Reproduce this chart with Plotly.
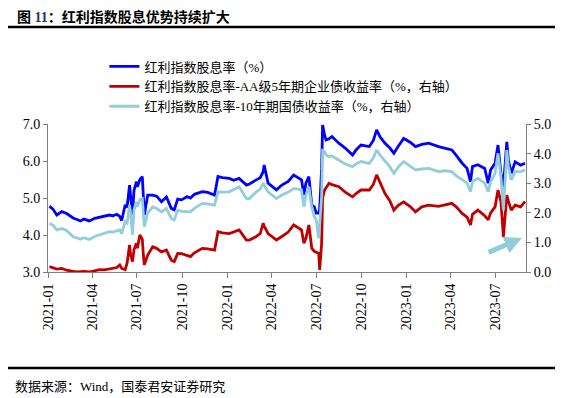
import plotly.graph_objects as go

dates = [
    "2021-01-04", "2021-01-11", "2021-01-19", "2021-01-29", "2021-02-08", "2021-02-21",
    "2021-03-01", "2021-03-08", "2021-03-15", "2021-03-26", "2021-04-06", "2021-04-16",
    "2021-04-26", "2021-05-06", "2021-05-13", "2021-05-21", "2021-05-27", "2021-05-31",
    "2021-06-07", "2021-06-11", "2021-06-16", "2021-06-18", "2021-06-22", "2021-06-25",
    "2021-06-30", "2021-07-02", "2021-07-07", "2021-07-12", "2021-07-14", "2021-07-16",
    "2021-07-23", "2021-08-02", "2021-08-10", "2021-08-20", "2021-08-30", "2021-09-09",
    "2021-09-15", "2021-09-22", "2021-09-30", "2021-10-11", "2021-10-18", "2021-10-26",
    "2021-11-11", "2021-11-22", "2021-12-06", "2021-12-13", "2021-12-22", "2022-01-05",
    "2022-01-14", "2022-01-25", "2022-02-09", "2022-02-15", "2022-03-01", "2022-03-09",
    "2022-03-15", "2022-03-17", "2022-03-25", "2022-04-11", "2022-04-22", "2022-05-05",
    "2022-05-16", "2022-05-24", "2022-06-01", "2022-06-06", "2022-06-10", "2022-06-16",
    "2022-06-22", "2022-06-27", "2022-07-01", "2022-07-06", "2022-07-08", "2022-07-12",
    "2022-07-14", "2022-07-18", "2022-07-21", "2022-07-27", "2022-08-02", "2022-08-16",
    "2022-08-29", "2022-09-13", "2022-09-20", "2022-09-30", "2022-10-17", "2022-10-25",
    "2022-11-01", "2022-11-08", "2022-11-18", "2022-11-28", "2022-12-06", "2022-12-15",
    "2022-12-26", "2023-01-09", "2023-01-19", "2023-02-01", "2023-02-15", "2023-03-07",
    "2023-03-20", "2023-04-03", "2023-04-12", "2023-04-24", "2023-05-04", "2023-05-11",
    "2023-05-15", "2023-05-26", "2023-06-09", "2023-06-16", "2023-06-21", "2023-06-30",
    "2023-07-06", "2023-07-12", "2023-07-17", "2023-07-24", "2023-07-27", "2023-08-02",
    "2023-08-10", "2023-08-21", "2023-08-30",
]

dividend_yield = [
    4.78, 4.70, 4.54, 4.63, 4.58, 4.46,
    4.42, 4.38, 4.43, 4.38, 4.45, 4.48,
    4.50, 4.54, 4.52, 4.56, 4.50, 4.39,
    4.81, 4.75, 5.35, 5.10, 4.54, 5.20,
    5.44, 5.30, 5.50, 5.58, 5.20, 4.54,
    5.08, 5.08, 5.05, 4.90, 5.03, 4.72,
    4.68, 4.97, 4.95, 5.04, 5.00, 5.10,
    5.17, 5.15, 5.08, 5.58, 5.55, 5.53,
    5.48, 5.53, 5.35, 5.38, 5.49, 5.55,
    5.71, 5.89, 5.40, 5.22, 5.35, 5.45,
    5.62, 5.55, 5.49, 5.08, 5.40, 5.58,
    4.81, 4.76, 4.59, 4.59, 4.70, 5.80,
    6.97, 6.70, 6.57, 6.60, 6.66, 6.48,
    6.35, 6.16, 6.30, 6.43, 6.39, 6.55,
    6.84, 6.65, 6.48, 6.35, 6.21, 6.40,
    6.61, 6.50, 6.39, 6.45, 6.48, 6.39,
    6.35, 6.30, 6.15, 5.94, 5.80, 5.44,
    5.85, 5.90, 5.80, 5.40, 5.76, 5.94,
    6.43, 5.67, 5.31, 6.52, 6.03, 5.67,
    5.98, 5.89, 5.94,
]

spread_aa5y = [
    0.18, 0.15, 0.10, 0.12, 0.06, 0.02,
    0.00, 0.01, 0.02, 0.00, 0.03, 0.08,
    0.07, 0.10, 0.13, 0.15, 0.24, 0.12,
    0.08, 0.30, 0.91, 0.60, 0.35, 0.75,
    0.97, 0.80, 1.25, 1.10, 0.60, 0.24,
    0.57, 0.85, 0.80, 0.68, 0.74, 0.40,
    0.35, 0.63, 0.62, 0.55, 0.52, 0.65,
    0.80, 0.78, 0.74, 1.36, 1.32, 1.30,
    1.35, 1.42, 1.08, 1.08, 1.20, 1.30,
    1.65, 1.55, 1.30, 1.08, 1.20, 1.35,
    1.59, 1.50, 1.42, 0.97, 1.14, 1.59,
    0.80, 0.70, 0.68, 0.63, 0.07, 0.97,
    2.50, 2.77, 2.85, 3.00, 2.95, 2.88,
    2.70, 2.54, 2.65, 2.77, 2.77, 2.95,
    3.28, 3.00, 2.65, 2.40, 2.09, 2.25,
    2.37, 2.20, 2.03, 2.20, 2.26, 2.22,
    2.26, 2.32, 2.20, 1.98, 1.85, 1.59,
    1.95, 2.09, 1.90, 1.76, 2.00, 2.20,
    2.77, 2.38, 1.19, 2.60, 2.40, 2.09,
    2.26, 2.20, 2.38,
]

spread_10y = [
    1.64, 1.58, 1.42, 1.47, 1.40, 1.19,
    1.15, 1.11, 1.16, 1.10, 1.20, 1.25,
    1.30, 1.36, 1.35, 1.40, 1.42, 1.30,
    1.70, 1.65, 2.26, 2.00, 1.25, 2.10,
    2.37, 2.20, 2.45, 2.48, 2.00, 1.53,
    2.00, 2.20, 2.15, 2.03, 2.15, 1.81,
    1.76, 2.09, 2.05, 2.03, 2.03, 2.15,
    2.32, 2.30, 2.26, 2.71, 2.70, 2.71,
    2.78, 2.88, 2.48, 2.48, 2.71, 2.80,
    3.00, 2.95, 2.71, 2.48, 2.60, 2.70,
    2.82, 2.80, 2.77, 2.20, 2.60, 2.88,
    2.20, 1.87, 1.76, 1.14, 1.60, 2.54,
    4.10, 4.06, 3.95, 3.90, 3.92, 3.78,
    3.65, 3.56, 3.65, 3.73, 3.67, 3.85,
    4.12, 3.95, 3.73, 3.55, 3.33, 3.55,
    3.73, 3.58, 3.45, 3.48, 3.50, 3.39,
    3.42, 3.39, 3.25, 3.12, 3.00, 2.71,
    3.05, 3.16, 3.00, 2.71, 3.05, 3.33,
    4.01, 3.20, 2.09, 4.12, 3.60, 3.11,
    3.39, 3.39, 3.45,
]

names = [
    "红利指数股息率（%）",
    "红利指数股息率-AA级5年期企业债收益率（%，右轴）",
    "红利指数股息率-10年期国债收益率（%，右轴）",
]
colors = ["#0000FF", "#C00000", "#92CDDC"]

FONT = "Liberation Serif, 'Noto Sans CJK SC', serif"

fig = go.Figure()
fig.add_trace(go.Scatter(x=dates, y=dividend_yield, name=names[0], mode="lines",
                         line=dict(color=colors[0], width=2.8), yaxis="y"))
fig.add_trace(go.Scatter(x=dates, y=spread_aa5y, name=names[1], mode="lines",
                         line=dict(color=colors[1], width=2.8), yaxis="y2"))
fig.add_trace(go.Scatter(x=dates, y=spread_10y, name=names[2], mode="lines",
                         line=dict(color=colors[2], width=2.8), yaxis="y2"))

axis_color = "#808080"
# The page body has an 8px margin; the figure is sized so it fits the window.
fig.update_layout(
    width=555, height=390,
    margin=dict(l=40, r=34, t=116, b=126),
    paper_bgcolor="white", plot_bgcolor="white",
    font=dict(family=FONT, size=13, color="black"),
    showlegend=True,
    legend=dict(x=0.118, y=1.49, xanchor="left", yanchor="top",
                bgcolor="rgba(0,0,0,0)", font=dict(size=13, family=FONT),
                tracegroupgap=0, itemwidth=30),
    xaxis=dict(type="date", range=["2021-01-01", "2023-09-01"],
               tick0="2021-01-01", dtick="M3", tickformat="%Y-%m",
               tickangle=-90, showgrid=False, zeroline=False,
               showline=True, linecolor=axis_color, linewidth=1,
               ticks="outside", ticklen=5, tickcolor=axis_color,
               tickfont=dict(size=14, family=FONT)),
    yaxis=dict(range=[3, 7], dtick=1, tickformat=".1f", showgrid=False,
               zeroline=False, showline=True, linecolor=axis_color, linewidth=1,
               ticks="outside", ticklen=4, tickcolor=axis_color,
               tickfont=dict(size=14, family=FONT)),
    yaxis2=dict(range=[0, 5], dtick=1, tickformat=".1f", overlaying="y", side="right",
                showgrid=False, zeroline=False, showline=True, linecolor=axis_color,
                linewidth=1, ticks="outside", ticklen=4, tickcolor=axis_color,
                tickfont=dict(size=14, family=FONT)),
)

def px_x(X):
    return (X - 48) / 481

def px_y(Y):
    return (272 - Y) / 148

# Title and rules
fig.add_annotation(xref="paper", yref="paper", x=px_x(15), y=px_y(7),
                   xanchor="left", yanchor="top", showarrow=False,
                   text='<b>图 <span style="color:#1F3864">11</span>：红利指数股息优势持续扩大</b>',
                   font=dict(size=14, family=FONT, color="black"))
fig.add_shape(type="line", xref="paper", yref="paper",
              x0=px_x(3), x1=px_x(560), y0=px_y(27), y1=px_y(27),
              line=dict(color="black", width=2.5))
fig.add_shape(type="line", xref="paper", yref="paper",
              x0=px_x(3), x1=px_x(560), y0=px_y(368), y1=px_y(368),
              line=dict(color="black", width=2.5))
fig.add_annotation(xref="paper", yref="paper", x=px_x(13), y=px_y(386),
                   xanchor="left", yanchor="middle", showarrow=False,
                   text="数据来源：Wind，国泰君安证券研究",
                   font=dict(size=13, family=FONT, color="black"))
# light-blue arrow
fig.add_annotation(xref="paper", yref="paper", x=px_x(525), y=px_y(238),
                   ax=-35, ay=15, text="", showarrow=True, arrowhead=2,
                   arrowsize=0.7, arrowwidth=5, arrowcolor="#92CDDC")

fig.write_html("out.html")
